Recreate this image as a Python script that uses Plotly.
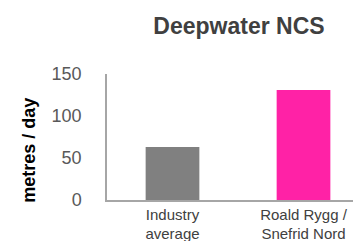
import plotly.graph_objects as go

categories = ["Industry<br>average", "Roald Rygg /<br>Snefrid Nord"]
values = [63, 131]
bar_colors = ["#808080", "#FF22A6"]
y_ticks = [0, 50, 100, 150]

FONT = "Liberation Sans, Arial, sans-serif"

fig = go.Figure(go.Bar(
    x=categories, y=values, marker_color=bar_colors, marker_line_width=0,
))

fig.update_layout(
    width=361, height=241,
    margin=dict(l=99, r=0, t=66, b=49),
    paper_bgcolor="white", plot_bgcolor="white",
    bargap=0.59,
    showlegend=False,
    font=dict(family=FONT),
    title=dict(text="<b>Deepwater NCS</b>", x=231 / 361, xref="container", xanchor="center",
               y=1 - 18 / 241, yref="container", yanchor="middle",
               font=dict(size=23, color="#404040", family=FONT)),
    xaxis=dict(showline=True, linecolor="#A6A6A6", linewidth=1.5, showgrid=False,
               ticks="", tickfont=dict(size=15, color="#404040"),
               range=[-0.5, 1.5]),
    yaxis=dict(showline=True, linecolor="#A6A6A6", linewidth=1.5, showgrid=False,
               zeroline=False, range=[0, 150], tickvals=y_ticks,
               ticks="", ticklabelstandoff=20,
               tickfont=dict(size=18, color="#595959")),
    annotations=[dict(text="<b>metres / day</b>", textangle=-90,
                      xref="paper", x=0, xshift=-78, xanchor="center",
                      yref="paper", y=(192.5 - 143) / 126.5, yanchor="middle",
                      showarrow=False,
                      font=dict(size=18, color="#000000", family=FONT))],
)

fig.write_html("out.html")
